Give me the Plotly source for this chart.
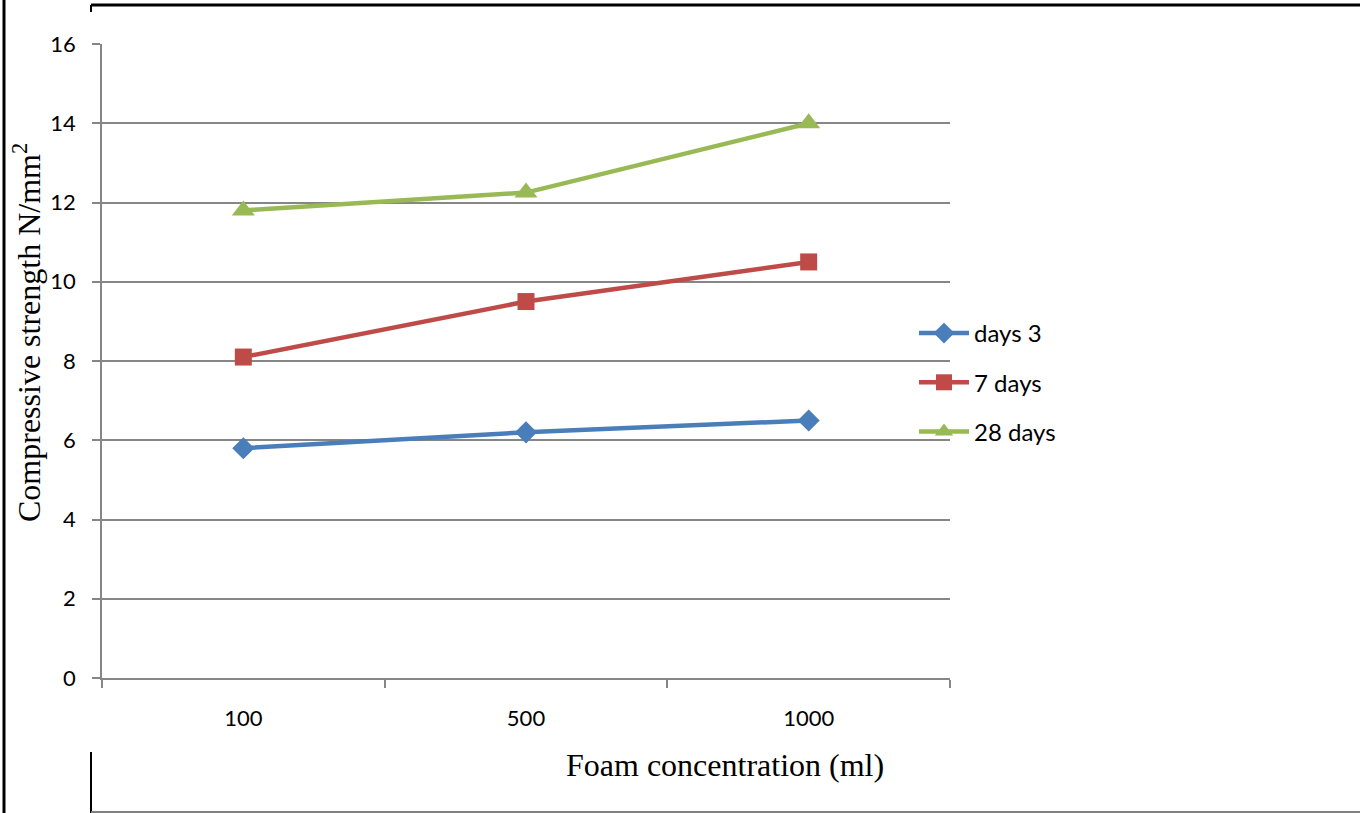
import plotly.graph_objects as go

categories = ["100", "500", "1000"]
days3 = [5.8, 6.2, 6.5]
days7 = [8.1, 9.5, 10.5]
days28 = [11.8, 12.25, 14.0]
series_names = ["days 3", "7 days", "28 days"]
y_ticks = [0, 2, 4, 6, 8, 10, 12, 14, 16]

W, H = 1360, 813
def px_x(v): return v / W
def px_y(v): return 1 - v / H

fig = go.Figure()
styles = [
    (days3, "#4A7EBB", "diamond", 17),
    (days7, "#BE4B48", "square", 17),
    (days28, "#98B954", "triangle-up", 20),
]
for name, (vals, col, sym, sz) in zip(series_names, styles):
    fig.add_trace(go.Scatter(
        x=categories, y=vals, name=name, legendgroup=name,
        mode="lines+markers",
        line=dict(color=col, width=4.5),
        marker=dict(symbol=sym, size=sz, color=col, line=dict(width=0)),
    ))

tick_font = dict(size=22, family="Lato, Open Sans, sans-serif", color="#000000")
fig.update_layout(
    width=W, height=H, autosize=False,
    margin=dict(l=0, r=0, t=0, b=0, pad=0),
    paper_bgcolor="white", plot_bgcolor="white",
    font=dict(family="Lato, Open Sans, sans-serif", color="#000000"),
    xaxis=dict(
        domain=[px_x(102), px_x(950)],
        type="category", range=[-0.5, 2.5],
        tickson="boundaries", ticks="outside", ticklen=8, tickcolor="#868686",
        tickwidth=1.5,
        showline=True, linecolor="#868686", linewidth=1.5,
        showgrid=False, zeroline=False, automargin=False,
        tickfont=tick_font,
        ticklabelstandoff=20,
    ),
    yaxis=dict(
        domain=[px_y(678), px_y(44)],
        range=[0, 16], tickvals=y_ticks,
        ticks="outside", ticklen=8, tickcolor="#868686", tickwidth=1.5,
        showline=True, linecolor="#868686", linewidth=1.5,
        showgrid=True, gridcolor="#868686", gridwidth=1.5,
        zeroline=False, automargin=False,
        tickfont=tick_font,
        ticklabelstandoff=12,
    ),
    legend=dict(
        x=px_x(914), xanchor="left",
        y=px_y(311), yanchor="top",
        font=dict(size=24, family="Lato, Open Sans, sans-serif", color="#000000"),
        tracegroupgap=15,
        bgcolor="rgba(0,0,0,0)",
        itemwidth=50,
    ),
    showlegend=True,
)

fig.add_annotation(
    text="Compressive strength N/mm<sup>2</sup>",
    x=px_x(27), y=px_y(333), xref="paper", yref="paper",
    textangle=-90, showarrow=False,
    font=dict(size=32, family="Liberation Serif, Times New Roman, serif", color="#000000"),
    xanchor="center", yanchor="middle",
)
fig.add_annotation(
    text="Foam concentration (ml)",
    x=px_x(725), y=px_y(765), xref="paper", yref="paper",
    showarrow=False,
    font=dict(size=32, family="Liberation Serif, Times New Roman, serif", color="#000000"),
    xanchor="center", yanchor="middle",
)

shapes = [
    dict(x0=4, x1=4, y0=0, y1=H, color="#000000", w=3),
    dict(x0=91, x1=W, y0=5, y1=5, color="#000000", w=3),
    dict(x0=91, x1=91, y0=5, y1=12, color="#000000", w=2),
    dict(x0=91, x1=91, y0=752, y1=H, color="#000000", w=2),
    dict(x0=91, x1=W, y0=812, y1=812, color="#808080", w=2),
]
for s in shapes:
    fig.add_shape(type="line", xref="paper", yref="paper",
                  x0=px_x(s["x0"]), x1=px_x(s["x1"]),
                  y0=px_y(s["y0"]), y1=px_y(s["y1"]),
                  line=dict(color=s["color"], width=s["w"]))

fig.write_html("out.html")
